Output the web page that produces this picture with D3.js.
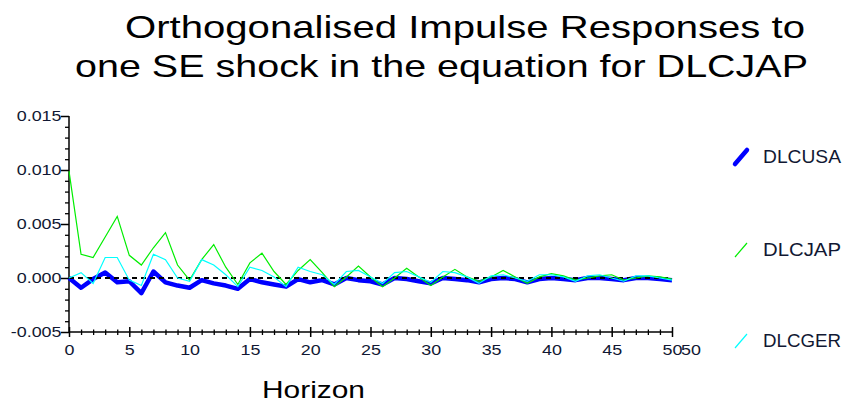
<!DOCTYPE html>
<html>
<head>
<meta charset="utf-8">
<script src="https://cdn.jsdelivr.net/npm/d3@7"></script>
<style>
  html, body { margin: 0; padding: 0; background: #fff; }
  svg { display: block; }
  text { font-family: "Liberation Sans", Arial, sans-serif; }
</style>
</head>
<body>
<svg id="chart" width="848" height="404"></svg>
<script>
// ---------- data ----------
const horizon = [0,1,2,3,4,5,6,7,8,9,10,11,12,13,14,15,16,17,18,19,20,21,22,23,24,25,26,27,28,29,30,31,32,33,34,35,36,37,38,39,40,41,42,43,44,45,46,47,48,49,50];
const dlcusa = [0.0000,-0.0009,-0.0001,0.0005,-0.0004,-0.0003,-0.0014,0.0006,-0.0004,-0.0007,
                -0.0009,-0.0002,-0.0005,-0.0007,-0.0010,-0.0001,-0.0004,-0.0006,-0.0008,-0.0001,
                -0.0004,-0.0002,-0.0006,0.0000,-0.0002,-0.0003,-0.0006,0.0000,-0.0001,-0.0003,
                -0.0005,0.0000,-0.0001,-0.0002,-0.0004,-0.0001,0.0000,-0.0001,-0.0004,-0.0001,
                0.0000,-0.0001,-0.0002,0.0000,0.0000,-0.0001,-0.0002,0.0000,0.0000,-0.0001,-0.0002];
const dlcjap = [0.0099,0.0022,0.0019,0.0038,0.0057,0.0021,0.0012,0.0028,0.0042,0.0012,
                -0.0002,0.0017,0.0031,0.0010,-0.0006,0.0014,0.0023,0.0006,-0.0006,0.0007,
                0.0017,0.0005,-0.0008,0.0001,0.0011,0.0001,-0.0008,0.0000,0.0009,0.0001,
                -0.0007,0.0001,0.0008,0.0001,-0.0003,0.0001,0.0007,0.0001,-0.0005,0.0001,
                0.0004,0.0002,-0.0002,0.0000,0.0002,0.0003,-0.0002,0.0000,0.0002,0.0001,-0.0001];
const dlcger = [0.0000,0.0005,-0.0005,0.0019,0.0019,-0.0002,-0.0007,0.0022,0.0017,0.0000,
                -0.0003,0.0017,0.0012,0.0003,-0.0008,0.0010,0.0007,0.0001,-0.0008,0.0010,
                0.0006,0.0003,-0.0006,0.0006,0.0007,0.0001,-0.0005,0.0005,0.0006,0.0001,
                -0.0004,0.0006,0.0005,0.0001,-0.0005,0.0002,0.0003,0.0000,-0.0003,0.0003,
                0.0003,0.0001,-0.0003,0.0002,0.0003,0.0000,-0.0003,0.0002,0.0002,0.0000,-0.0002];
const seriesNames = ["DLCUSA","DLCJAP","DLCGER"];
const seriesColors = ["#0000ff","#00ee00","#00ffff"];
const yTicks = [-0.005,0.000,0.005,0.010,0.015];
const yTickLabels = ["-0.005","0.000","0.005","0.010","0.015"];
const yMinorTicks = [-0.004,-0.003,-0.002,-0.001,0.001,0.002,0.003,0.004,0.006,0.007,0.008,0.009,0.011,0.012,0.013,0.014];
const xTicks = [0,5,10,15,20,25,30,35,40,45,50];
const xTickLabels = ["0","5","10","15","20","25","30","35","40","45","50"];
const titleLines = ["Orthogonalised Impulse Responses to","one SE shock in the equation for DLCJAP"];
const xAxisTitle = "Horizon";

// ---------- drawing ----------
const svg = d3.select("#chart");
const x = d3.scaleLinear().domain([0,50]).range([69,672]);
const y = d3.scaleLinear().domain([-0.005,0.015]).range([332,116]);
const STRETCH = 1.28;

// title
const titleG = svg.append("g");
const titleX = [125, 75], titleY = [38, 77], titleW = [680, 733];
titleLines.forEach((t,i) => {
  titleG.append("text").attr("x", titleX[i]).attr("y", titleY[i])
    .attr("font-size", 32).attr("fill", "#000")
    .attr("textLength", titleW[i]).attr("lengthAdjust", "spacingAndGlyphs")
    .text(t);
});

// y axis
const yAxisMinor = d3.axisLeft(y).tickValues(yMinorTicks).tickSize(4).tickFormat("");
const yAxis = d3.axisLeft(y).tickValues(yTicks).tickSize(8)
  .tickFormat((d,i) => yTickLabels[i]);
const gyMinor = svg.append("g").attr("transform","translate(69,0)").call(yAxisMinor);
gyMinor.select(".domain").remove();
gyMinor.selectAll("line").attr("stroke","#000").attr("stroke-width",1.3);
const gy = svg.append("g").attr("transform","translate(69,0)").call(yAxis);
gy.select(".domain").attr("stroke","#000").attr("stroke-width",1.5).attr("d", `M0,${y(0.015)}V${y(-0.005)}`);
gy.selectAll("line").attr("stroke","#000").attr("stroke-width",1.5);
gy.selectAll("text").attr("font-size",14).attr("fill","#111833")
  .attr("x", -7.5/STRETCH).attr("dy","0.35em")
  .attr("transform", `scale(${STRETCH},1)`);

// x axis
const xMinorVals = horizon.filter(h => h % 5 !== 0);
const xAxisMinor = d3.axisBottom(x).tickValues(xMinorVals).tickSize(3).tickFormat("");
const xAxis = d3.axisBottom(x).tickValues(xTicks).tickSize(5)
  .tickFormat((d,i) => xTickLabels[i]);
const gxMinor = svg.append("g").attr("transform","translate(0,332)").call(xAxisMinor);
gxMinor.select(".domain").remove();
gxMinor.selectAll("line").attr("stroke","#000").attr("stroke-width",1.3).attr("y1",-2.5).attr("y2",3);
const gx = svg.append("g").attr("transform","translate(0,332)").call(xAxis);
gx.select(".domain").attr("stroke","#000").attr("stroke-width",1.5).attr("d", `M${x(0)},0H${x(50)}`);
gx.selectAll("line").attr("stroke","#000").attr("stroke-width",1.5).attr("y1",-5).attr("y2",5);
gx.selectAll("text").attr("font-size",14).attr("fill","#111833")
  .attr("y", 23).attr("dy", 0)
  .attr("transform", `scale(${STRETCH},1)`);
// extra axis-end label
svg.append("text").attr("transform", `translate(${x(50)+9},355) scale(${STRETCH},1)`)
  .attr("font-size",14).attr("fill","#111833").text(xTickLabels[xTickLabels.length-1]);

// x axis title
svg.append("text").attr("x", 262).attr("y", 398).attr("font-size", 24).attr("fill","#000")
  .attr("textLength", 103).attr("lengthAdjust","spacingAndGlyphs").text(xAxisTitle);

// lines
const line = d3.line().x((d,i) => x(horizon[i])).y(d => y(d));
const plot = svg.append("g");
plot.append("path").datum(dlcusa).attr("d", line).attr("fill","none")
  .attr("stroke", seriesColors[0]).attr("stroke-width", 4.5).attr("stroke-linejoin","round");
// zero line
plot.append("line").attr("x1", x(0)).attr("x2", x(50)).attr("y1", y(0)).attr("y2", y(0))
  .attr("stroke","#000").attr("stroke-width",1.8).attr("stroke-dasharray","5,4");
plot.append("path").datum(dlcjap).attr("d", line).attr("fill","none")
  .attr("stroke", seriesColors[1]).attr("stroke-width", 1.2);
plot.append("path").datum(dlcger).attr("d", line).attr("fill","none")
  .attr("stroke", seriesColors[2]).attr("stroke-width", 1.2);

// legend
const legY = [163, 256, 347];
const legW = [4.5, 1.2, 1.2];
const legendG = svg.append("g");
seriesNames.forEach((n,i) => {
  legendG.append("line").attr("x1", 735).attr("y1", legY[i]+1).attr("x2", 747).attr("y2", legY[i]-13)
    .attr("stroke", seriesColors[i]).attr("stroke-width", legW[i]).attr("stroke-linecap", i===0?"round":"butt");
  legendG.append("text").attr("x", 763).attr("y", legY[i]).attr("font-size", 19).attr("fill","#111833")
    .attr("textLength", 78).attr("lengthAdjust","spacingAndGlyphs").text(n);
});
</script>
</body>
</html>
